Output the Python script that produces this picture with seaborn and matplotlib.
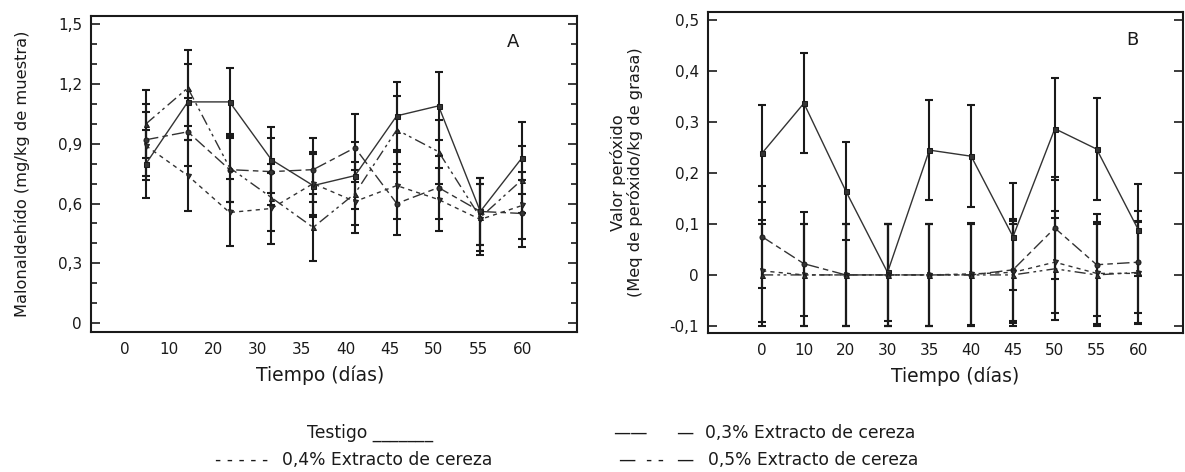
import numpy as np
import pandas as pd
import matplotlib
matplotlib.use("Agg")
import matplotlib.pyplot as plt
import seaborn as sns

# ---------------- data ----------------
days = ["0", "10", "20", "30", "35", "40", "45", "50", "55", "60"]
treatments = ["Testigo", "0,3% Extracto de cereza",
              "0,4% Extracto de cereza", "0,5% Extracto de cereza"]

# Panel A: Malonaldehido (mg/kg de muestra)
mda_testigo = [0.80, 1.11, 1.11, 0.82, 0.69, 0.74, 1.04, 1.09, 0.56, 0.83]
mda_03 = [0.92, 0.96, 0.77, 0.76, 0.77, 0.88, 0.60, 0.68, 0.56, 0.55]
mda_04 = [0.89, 0.74, 0.555, 0.575, 0.70, 0.61, 0.69, 0.62, 0.52, 0.59]
mda_05 = [1.00, 1.18, 0.78, 0.63, 0.48, 0.65, 0.97, 0.86, 0.53, 0.72]
mda_err_testigo = [0.17, 0.19, 0.17, 0.165, 0.16, 0.17, 0.17, 0.17, 0.17, 0.18]
mda_err_03 = [0.18, 0.17, 0.16, 0.17, 0.16, 0.17, 0.16, 0.16, 0.17, 0.17]
mda_err_04 = [0.17, 0.18, 0.17, 0.18, 0.16, 0.16, 0.17, 0.16, 0.18, 0.17]
mda_err_05 = [0.17, 0.19, 0.17, 0.17, 0.17, 0.16, 0.17, 0.16, 0.17, 0.17]

# Panel B: Valor peroxido (Meq de peroxido/kg de grasa)
pv_testigo = [0.239, 0.337, 0.165, 0.005, 0.245, 0.233, 0.075, 0.287, 0.247, 0.088]
pv_03 = [0.075, 0.022, 0.0, 0.0, 0.0, 0.0, 0.010, 0.092, 0.020, 0.025]
pv_04 = [0.008, 0.0, 0.0, 0.0, 0.0, 0.002, 0.005, 0.025, 0.003, 0.003]
pv_05 = [0.0, 0.0, 0.0, 0.0, 0.0, 0.0, 0.0, 0.012, 0.0, 0.005]
pv_err_testigo = [0.095, 0.098, 0.096, 0.095, 0.098, 0.100, 0.105, 0.100, 0.100, 0.090]
pv_err_03 = [0.100, 0.102, 0.100, 0.100, 0.100, 0.100, 0.100, 0.100, 0.100, 0.100]
pv_err_04 = [0.100, 0.100, 0.100, 0.100, 0.100, 0.100, 0.100, 0.100, 0.100, 0.100]
pv_err_05 = [0.100, 0.100, 0.100, 0.100, 0.100, 0.100, 0.100, 0.100, 0.100, 0.100]

a_ticks = ["0", "0,3", "0,6", "0,9", "1,2", "1,5"]
b_ticks = ["-0,1", "0", "0,1", "0,2", "0,3", "0,4", "0,5"]

# ---------------- style ----------------
sns.set_style("ticks")
plt.rcParams["font.family"] = ["DejaVu Sans"]
INK = "#1a1a1a"
LINE = "#333333"

dashes = {treatments[0]: "",
          treatments[1]: (9, 3, 4, 3),
          treatments[2]: (3, 3),
          treatments[3]: (8, 3, 2, 2.5, 2, 3)}
markers = {treatments[0]: "s", treatments[1]: "o",
           treatments[2]: "v", treatments[3]: "^"}
palette = {t: LINE for t in treatments}

pos = np.arange(len(days))


def long_df(vals, errs):
    rows = []
    for t, v, e in zip(treatments, vals, errs):
        for i, (yy, ee) in enumerate(zip(v, e)):
            rows.append({"pos": pos[i], "dia": days[i], "valor": yy,
                         "err": ee, "tratamiento": t})
    return pd.DataFrame(rows)


dfA = long_df([mda_testigo, mda_03, mda_04, mda_05],
              [mda_err_testigo, mda_err_03, mda_err_04, mda_err_05])
dfB = long_df([pv_testigo, pv_03, pv_04, pv_05],
              [pv_err_testigo, pv_err_03, pv_err_04, pv_err_05])

fig = plt.figure(figsize=(11.85, 4.72), dpi=100)
axA = fig.add_axes([0.0768, 0.2966, 0.410, 0.669])
axB = fig.add_axes([0.5975, 0.2945, 0.401, 0.680])


def draw(ax, df):
    for t in treatments:
        d = df[df["tratamiento"] == t]
        ax.errorbar(d["pos"], d["valor"], yerr=d["err"], fmt="none",
                    ecolor=INK, elinewidth=1.5, capsize=2.6, capthick=1.5,
                    zorder=2)
    sns.lineplot(data=df, x="pos", y="valor", hue="tratamiento",
                 style="tratamiento", palette=palette, dashes=dashes,
                 markers=markers, markersize=3.6, markeredgecolor=INK,
                 linewidth=1.0, legend=False, errorbar=None, sort=False,
                 ax=ax, zorder=3)
    for s in ax.spines.values():
        s.set_visible(True)
        s.set_linewidth(1.5)
        s.set_color(INK)
    ax.set_xlabel("Tiempo (días)", fontsize=13.5, color=INK)
    ax.tick_params(axis="x", length=0, pad=7, labelsize=11, labelcolor=INK)
    ax.tick_params(axis="y", which="both", direction="in", left=True,
                   right=True, labelright=False, labelsize=11,
                   labelcolor=INK, color=INK, width=1.2, pad=6.5)
    ax.tick_params(axis="y", which="major", length=6.5)
    ax.tick_params(axis="y", which="minor", length=4.3)


draw(axA, dfA)
axA.set_xlim(-1.316, 10.31)
axA.set_xticks(np.linspace(-0.5, 9, len(days)))
axA.set_xticklabels(days)
axA.set_ylim(-0.045, 1.54)
axA.set_yticks(np.arange(len(a_ticks)) * 0.3)
axA.set_yticklabels(a_ticks)
axA.set_yticks(np.arange(16) * 0.1, minor=True)
axA.set_ylabel("Malonaldehído (mg/kg de muestra)", fontsize=11.7, color=INK)
axA.yaxis.set_label_coords(-0.125, 0.5)
axA.xaxis.set_label_coords(0.471, -0.105)
axA.text(0.868, 0.918, "A", transform=axA.transAxes, fontsize=13,
         ha="center", va="center", color=INK)

draw(axB, dfB)
axB.set_xlim(-1.292, 10.07)
axB.set_xticks(pos)
axB.set_xticklabels(days)
axB.set_ylim(-0.114, 0.516)
axB.set_yticks(np.arange(len(b_ticks)) * 0.1 - 0.1)
axB.set_yticklabels(b_ticks)
axB.set_ylabel("Valor peróxido\n(Meq de peróxido/kg de grasa)",
               fontsize=11.7, color=INK, linespacing=1.05)
axB.yaxis.set_label_coords(-0.137, 0.5)
axB.xaxis.set_label_coords(0.52, -0.103)
axB.text(0.893, 0.913, "B", transform=axB.transAxes, fontsize=13,
         ha="center", va="center", color=INK)

# ---------------- legend (text) ----------------
W, H = 1185.0, 472.0
r1 = 1 - 433 / H
r2 = 1 - 460 / H
fs = 12.3
fig.text(307 / W, r1, "Testigo _______", fontsize=fs, ha="left", va="center", color=INK)
fig.text(268 / W, r2, "- - - - -", fontsize=fs, ha="right", va="center", color=INK)
fig.text(282 / W, r2, treatments[2], fontsize=fs, ha="left", va="center", color=INK)
fig.text(613 / W, r1, "——", fontsize=fs, ha="left", va="center", color=INK)
fig.text(676 / W, r1, "—", fontsize=fs, ha="left", va="center", color=INK)
fig.text(705 / W, r1, treatments[1], fontsize=fs, ha="left", va="center", color=INK)
fig.text(618 / W, r2, "—", fontsize=fs, ha="left", va="center", color=INK)
fig.text(646 / W, r2, "- -", fontsize=fs, ha="left", va="center", color=INK)
fig.text(676 / W, r2, "—", fontsize=fs, ha="left", va="center", color=INK)
fig.text(708 / W, r2, treatments[3], fontsize=fs, ha="left", va="center", color=INK)

fig.savefig("out.png", dpi=100, facecolor="white")
